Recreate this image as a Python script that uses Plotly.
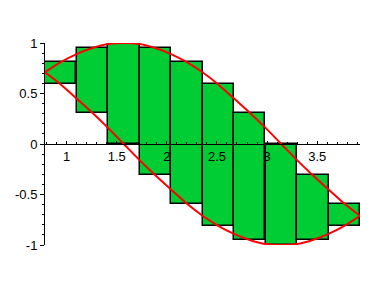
import plotly.graph_objects as go

# Box midpoints and box top/bottom values
box_mid = [0.942, 1.257, 1.571, 1.885, 2.199, 2.513, 2.827, 3.142, 3.456, 3.770]
box_top = [0.81, 0.95, 1.00, 0.95, 0.81, 0.59, 0.31, 0.00, -0.31, -0.59]
box_bottom = [0.59, 0.31, 0.00, -0.31, -0.59, -0.81, -0.95, -1.00, -0.95, -0.81]
box_width = 0.314

# Curves
curve_x = [0.785, 0.942, 1.100, 1.257, 1.414, 1.571, 1.728, 1.885, 2.042, 2.199, 2.356,
           2.513, 2.670, 2.827, 2.985, 3.142, 3.299, 3.456, 3.613, 3.770, 3.927]
upper_y = [0.71, 0.81, 0.89, 0.95, 0.99, 1.00, 0.99, 0.95, 0.89, 0.81, 0.71,
           0.59, 0.45, 0.31, 0.16, 0.00, -0.16, -0.31, -0.45, -0.59, -0.71]
lower_y = [0.71, 0.59, 0.45, 0.31, 0.16, 0.00, -0.16, -0.31, -0.45, -0.59, -0.71,
           -0.81, -0.89, -0.95, -0.99, -1.00, -0.99, -0.95, -0.89, -0.81, -0.71]

x_ticks = [1, 1.5, 2, 2.5, 3, 3.5]
x_ticktext = ["1", "1.5", "2", "2.5", "3", "3.5"]
y_ticks = [-1, -0.5, 0, 0.5, 1]
y_ticktext = ["-1", "-0.5", "0", "0.5", "1"]

fig = go.Figure()
fig.add_trace(go.Bar(
    x=box_mid,
    y=[t - b for t, b in zip(box_top, box_bottom)],
    base=box_bottom,
    width=box_width,
    marker=dict(color="rgb(0,204,51)", line=dict(color="black", width=1.5)),
    showlegend=False,
))
for ys in (upper_y, lower_y):
    fig.add_trace(go.Scatter(
        x=curve_x, y=ys, mode="lines",
        line=dict(color="rgb(255,0,0)", width=2, shape="spline"),
        cliponaxis=False, showlegend=False,
    ))

font = dict(family="Liberation Sans, Arial, sans-serif", size=13, color="black")
fig.update_layout(
    width=388, height=288,
    margin=dict(l=45, r=28, t=43, b=43),
    paper_bgcolor="white", plot_bgcolor="white",
    font=font,
    bargap=0,
    xaxis=dict(
        range=[0.785, 3.927], anchor="free", position=0.5,
        showgrid=False, zeroline=False,
        showline=True, linecolor="black", linewidth=1,
        tickvals=x_ticks, ticktext=x_ticktext,
        ticks="inside", ticklen=3, tickcolor="black",
        minor=dict(dtick=0.1, tick0=0, ticks="inside", ticklen=2, tickcolor="black"),
        tickfont=font,
    ),
    yaxis=dict(
        range=[-1, 1],
        showgrid=False, zeroline=False,
        showline=True, linecolor="black", linewidth=1,
        tickvals=y_ticks, ticktext=y_ticktext,
        ticks="outside", ticklen=4, tickcolor="black",
        minor=dict(dtick=0.1, tick0=0, ticks="outside", ticklen=2, tickcolor="black"),
        tickfont=font,
    ),
)
fig.write_html("out.html")
